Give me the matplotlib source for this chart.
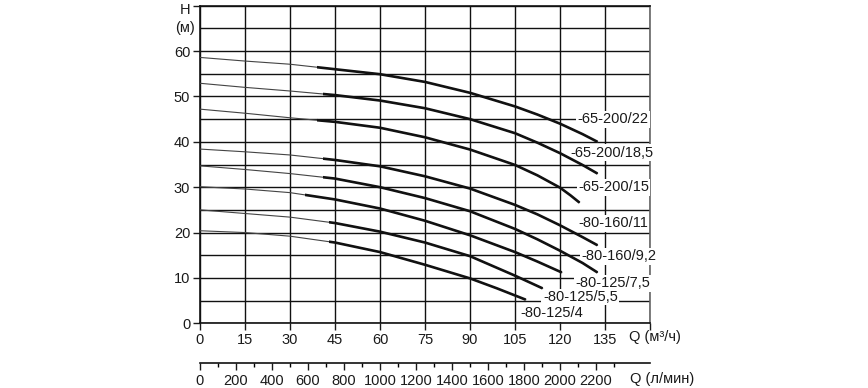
import numpy as np
import matplotlib
matplotlib.use("Agg")
import matplotlib.pyplot as plt
from matplotlib.patches import Rectangle
from matplotlib.ticker import MultipleLocator

plt.rcParams['font.family'] = ['Liberation Sans', 'DejaVu Sans']

# pump curves, Q in m3/h, H in m
names = ["-65-200/22", "-65-200/18,5", "-65-200/15", "-80-160/11",
         "-80-160/9,2", "-80-125/7,5", "-80-125/5,5", "-80-125/4"]

q_22 = [0, 15, 30, 45, 60, 75, 90, 105, 112.5, 120, 127.5, 132.5]
h_22 = [58.6, 57.8, 57.1, 56.0, 54.9, 53.2, 50.8, 47.8, 46.0, 44.0, 41.7, 40.0]
q_185 = [0, 15, 30, 45, 60, 75, 90, 105, 112.5, 120, 127.5, 132.5]
h_185 = [52.9, 52.0, 51.2, 50.3, 49.1, 47.4, 45.0, 41.9, 39.8, 37.5, 34.9, 33.0]
q_15 = [0, 15, 30, 45, 60, 75, 90, 105, 112.5, 120, 123.5, 126.5]
h_15 = [47.2, 46.3, 45.3, 44.4, 43.1, 41.0, 38.3, 34.9, 32.6, 29.9, 28.2, 26.6]
q_11 = [0, 15, 30, 45, 60, 75, 90, 105, 112.5, 120, 127.5, 132.5]
h_11 = [38.4, 37.8, 37.1, 36.0, 34.6, 32.4, 29.7, 26.1, 24.0, 21.6, 19.0, 17.2]
q_92 = [0, 15, 30, 45, 60, 75, 90, 105, 112.5, 120, 127.5, 132.5]
h_92 = [34.7, 33.9, 33.0, 31.9, 30.0, 27.6, 24.7, 20.8, 18.5, 16.0, 13.3, 11.2]
q_75 = [0, 15, 30, 45, 60, 75, 90, 105, 112.5, 120.6]
h_75 = [30.1, 29.6, 28.8, 27.3, 25.3, 22.6, 19.4, 15.7, 13.6, 11.2]
q_55 = [0, 15, 30, 45, 60, 75, 90, 105, 114.2]
h_55 = [25.0, 24.2, 23.4, 22.1, 20.2, 17.8, 14.8, 10.5, 7.7]
q_4 = [0, 15, 30, 45, 60, 75, 90, 99, 108.6]
h_4 = [20.4, 20.0, 19.2, 17.8, 15.7, 12.9, 9.9, 7.7, 5.2]

curves_q = [q_22, q_185, q_15, q_11, q_92, q_75, q_55, q_4]
curves_h = [h_22, h_185, h_15, h_11, h_92, h_75, h_55, h_4]
thick_from = [39, 41, 39, 41, 41, 35, 43, 43]   # working range starts here

# label anchors (left edge Q, centre H)
label_q = [125.7, 123.3, 126.0, 126.0, 127.0, 125.0, 114.3, 106.7]
label_h = [45.0, 37.6, 30.0, 22.0, 14.8, 8.8, 5.8, 2.2]

xticks = [0, 15, 30, 45, 60, 75, 90, 105, 120, 135]
yticks = [0, 10, 20, 30, 40, 50, 60]
lmin_ticks = [0, 200, 400, 600, 800, 1000, 1200, 1400, 1600, 1800, 2000, 2200]

txt = '#1a1a1a'
W, H = 868, 388
fig = plt.figure(figsize=(W / 100, H / 100), dpi=100)
ax = fig.add_axes([200 / W, 64.7 / H, 450 / W, 317.6 / H])

ax.set_xlim(0, 150)
ax.set_ylim(0, 70)
ax.set_xticks(xticks + [150])
ax.set_xticklabels([str(t) for t in xticks] + [''])
ax.set_yticks(yticks + [70])
ax.set_yticklabels([str(t) for t in yticks] + [''])
ax.yaxis.set_minor_locator(MultipleLocator(5))
ax.tick_params(axis='both', which='major', labelsize=10.5, colors=txt, length=5, width=1)
ax.tick_params(axis='x', which='major', pad=2)
ax.tick_params(axis='y', which='major', pad=2)
ax.tick_params(axis='y', which='minor', length=0)
ax.grid(True, which='both', axis='y', color='#111111', linewidth=1.0)
ax.grid(True, which='major', axis='x', color='#111111', linewidth=1.0)
ax.set_axisbelow(True)
for s in ax.spines.values():
    s.set_linewidth(1.2)
    s.set_color('#111111')
ax.spines['right'].set_color('#666666')

for q, h, q0, name, lq, lh in zip(curves_q, curves_h, thick_from, names, label_q, label_h):
    ax.plot(q, h, color='#444444', linewidth=0.8, zorder=4, solid_joinstyle='round')
    ln, = ax.plot(q, h, color='#111111', linewidth=1.9, zorder=5,
                  solid_capstyle='butt', solid_joinstyle='round')
    ln.set_clip_path(Rectangle((q0, -10), 200, 100, transform=ax.transData))
    ax.text(lq, lh, name, fontsize=10.5, color=txt, ha='left', va='center', zorder=3,
            bbox=dict(facecolor='white', edgecolor='none', pad=1.0))

fig.text(185 / W, 1 - 10 / H, 'H', fontsize=10.5, color=txt, ha='center', va='center')
fig.text(185 / W, 1 - 28 / H, '(м)', fontsize=10.5, color=txt, ha='center', va='center')
fig.text(629 / W, 1 - 337 / H, 'Q (м³/ч)', fontsize=10.5, color=txt, ha='left', va='center')

# second scale in l/min
ax2 = fig.add_axes([200 / W, 25.5 / H, 450 / W, 0.0001])
ax2.set_xlim(0, 150 * 1000 / 60)
ax2.set_yticks([])
for side in ['top', 'left', 'right']:
    ax2.spines[side].set_visible(False)
ax2.spines['bottom'].set_linewidth(1.2)
ax2.spines['bottom'].set_color('#111111')
ax2.set_xticks(lmin_ticks)
ax2.set_xticklabels([str(t) for t in lmin_ticks])
ax2.set_xticks(list(range(100, 2400, 200)), minor=True)
ax2.tick_params(axis='x', which='major', labelsize=10.5, colors=txt, length=5, width=1, pad=3)
ax2.tick_params(axis='x', which='minor', length=3, width=1)
ax2.patch.set_visible(False)
fig.text(630 / W, 1 - 379 / H, 'Q (л/мин)', fontsize=10.5, color=txt, ha='left', va='center')

fig.savefig('out.png', dpi=100)
